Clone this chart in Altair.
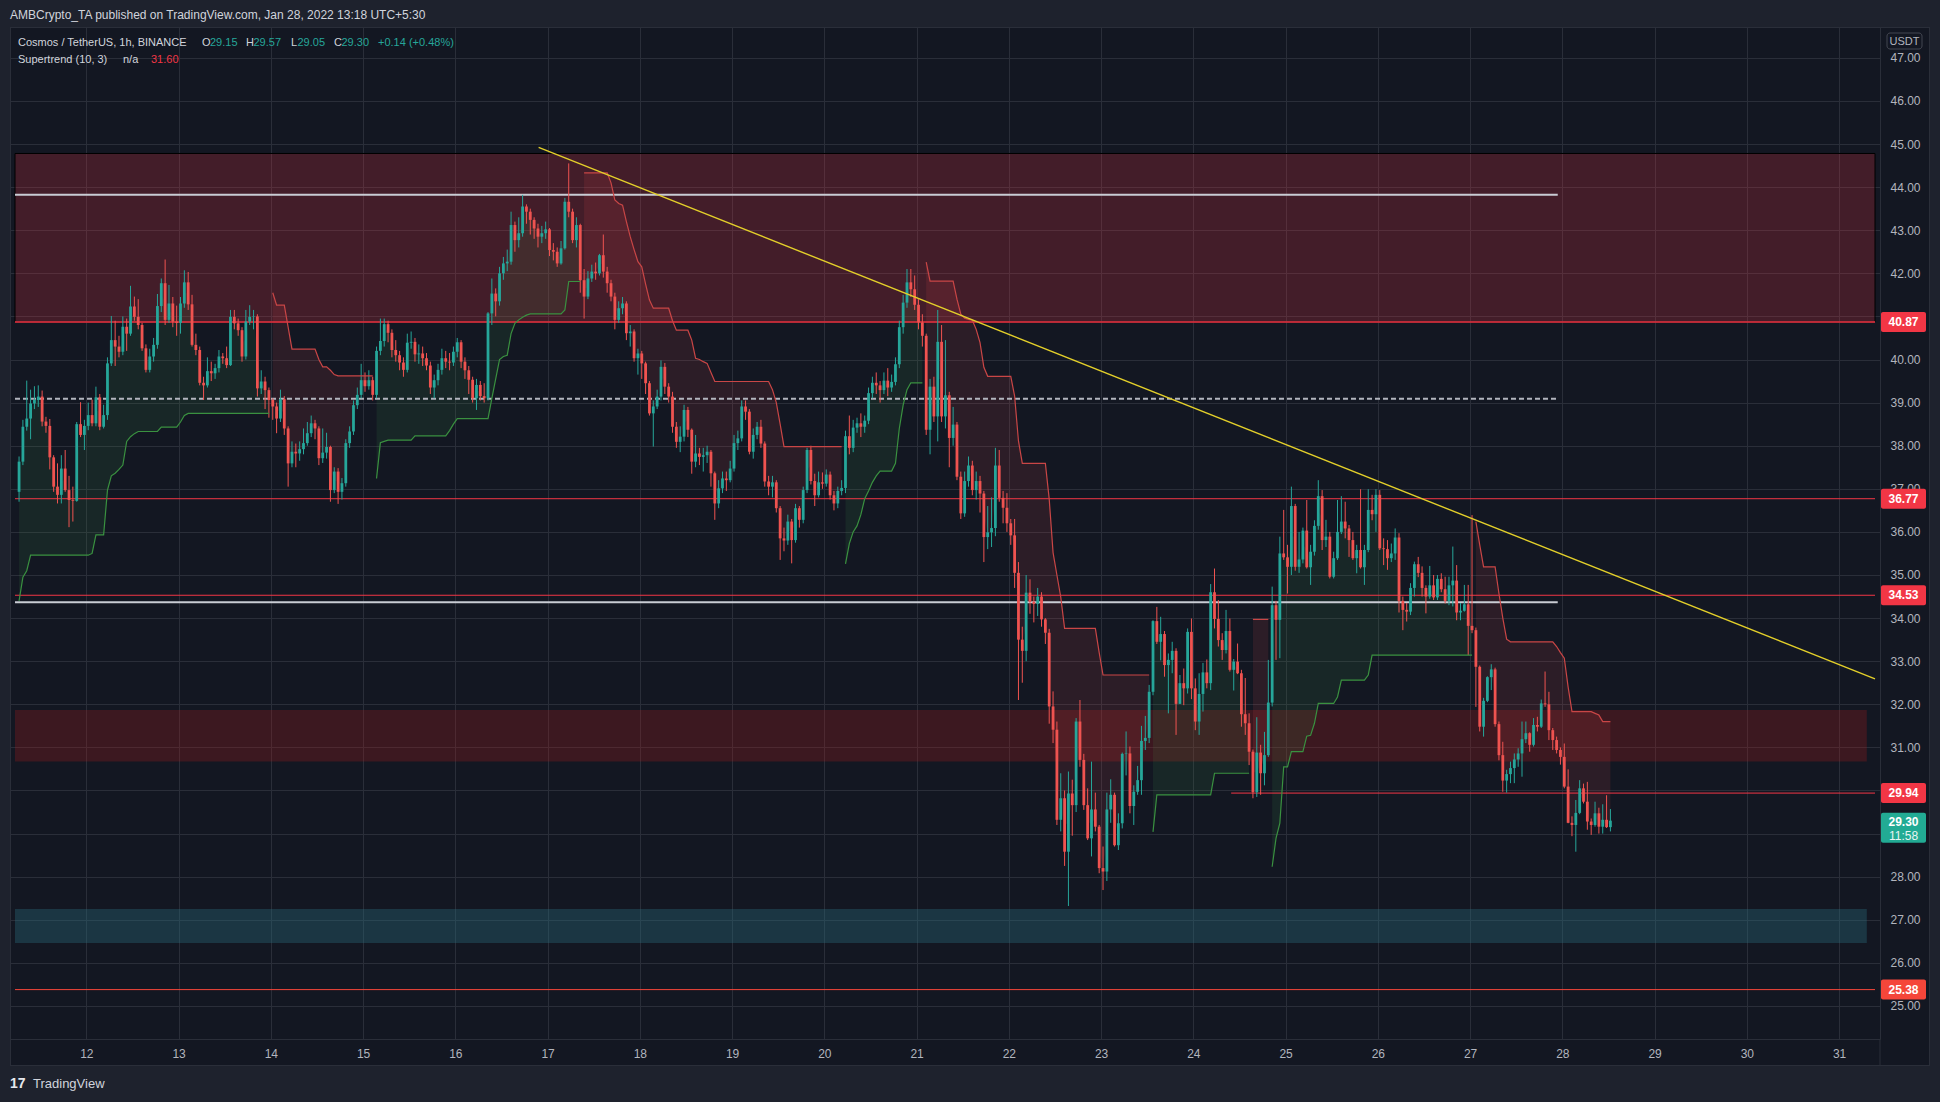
import altair as alt
import pandas as pd

# ------------------------------------------------------------------ data
FIRST_OPEN = 36.93
FIRST_BAR_DAY = 11.271          # Jan 11, 06:30 (UTC+5:30); one bar per hour
BARS_PER_DAY = 24

CLOSE = [
    37.63, 38.44, 38.63, 38.98, 39.06, 39.14, 38.56, 38.46, 37.73, 37.05,
    36.86, 37.47, 36.97, 36.74, 36.72, 38.50, 38.25, 38.46, 38.71, 38.52,
    39.12, 38.44, 38.71, 39.91, 40.45, 40.30, 40.18, 40.76, 40.60, 41.23,
    40.99, 40.80, 40.26, 39.76, 40.07, 40.34, 41.24, 41.77, 40.92, 41.30,
    40.88, 40.85, 41.30, 41.79, 41.28, 40.34, 40.22, 39.46, 39.40, 39.73,
    39.68, 39.80, 40.07, 40.03, 39.87, 40.99, 40.84, 40.68, 40.07, 40.88,
    40.99, 41.00, 39.33, 39.49, 39.29, 39.06, 38.91, 38.63, 39.08, 38.40,
    37.59, 37.86, 37.82, 37.92, 38.06, 38.29, 38.52, 38.40, 37.71, 37.84,
    37.97, 36.97, 37.40, 36.93, 37.13, 38.06, 38.33, 38.94, 39.18, 39.52,
    39.38, 39.52, 39.18, 40.20, 40.43, 40.82, 40.62, 40.22, 40.10, 39.93,
    39.76, 40.39, 40.41, 40.12, 40.14, 40.03, 39.86, 39.35, 39.52, 39.76,
    40.03, 39.95, 39.93, 40.18, 40.40, 39.95, 39.75, 39.53, 39.10, 39.41,
    39.15, 39.10, 41.07, 41.53, 41.35, 42.00, 42.23, 42.27, 43.12, 42.77,
    42.93, 43.55, 43.43, 43.24, 43.04, 42.85, 42.93, 43.02, 42.54, 42.50,
    42.23, 42.58, 43.66, 43.43, 42.77, 43.12, 41.84, 41.46, 41.88, 42.04,
    42.00, 42.42, 42.04, 41.77, 41.46, 40.92, 41.19, 41.30, 40.61, 40.65,
    40.03, 40.14, 39.91, 39.45, 38.75, 38.91, 39.14, 39.83, 39.37, 39.14,
    38.44, 38.09, 38.21, 38.83, 38.37, 37.63, 37.82, 37.74, 37.78, 37.86,
    37.36, 36.66, 37.01, 37.24, 37.20, 37.47, 38.06, 38.17, 38.91, 38.79,
    37.86, 38.25, 38.44, 38.05, 37.17, 37.05, 37.15, 36.55, 35.85, 35.80,
    36.24, 35.81, 36.55, 36.28, 36.97, 37.90, 37.18, 36.85, 37.15, 37.12,
    37.33, 36.85, 36.66, 36.95, 37.02, 38.22, 37.95, 38.42, 38.52, 38.44,
    38.58, 39.22, 39.46, 39.40, 39.29, 39.51, 39.35, 39.48, 39.89, 40.75,
    41.32, 41.79, 41.63, 41.27, 40.86, 40.55, 38.37, 39.37, 38.68, 40.41,
    38.68, 39.17, 38.18, 38.49, 37.28, 36.43, 37.18, 37.54, 36.97, 37.18,
    36.89, 35.88, 35.99, 36.09, 37.54, 36.79, 36.56, 36.20, 35.92, 35.05,
    33.50, 33.24, 34.59, 34.38, 34.33, 34.50, 33.97, 33.66, 31.95, 31.41,
    29.32, 29.82, 28.58, 29.93, 29.66, 31.60, 30.71, 29.66, 28.89, 29.56,
    29.16, 28.20, 28.12, 29.56, 29.90, 28.73, 29.24, 30.85, 30.86, 29.64,
    29.97, 30.24, 31.15, 31.22, 32.29, 33.93, 33.45, 33.63, 32.91, 33.03,
    33.24, 32.01, 32.49, 32.37, 33.68, 32.37, 31.60, 32.24, 32.74, 32.49,
    34.60, 33.98, 33.49, 33.26, 33.70, 32.80, 32.99, 32.72, 31.77, 31.56,
    30.90, 29.96, 30.88, 30.40, 30.82, 32.04, 34.30, 33.96, 35.50, 35.41,
    35.19, 36.60, 35.19, 35.36, 36.03, 35.18, 35.54, 36.14, 36.83, 35.81,
    35.89, 34.96, 35.39, 36.00, 36.24, 36.08, 35.81, 35.39, 35.58, 35.18,
    35.58, 36.51, 36.41, 36.86, 35.62, 35.60, 35.39, 35.50, 35.87, 34.40,
    34.19, 34.15, 34.70, 35.25, 35.05, 34.70, 34.50, 34.76, 34.48, 34.91,
    34.67, 34.40, 34.76, 34.87, 34.13, 34.17, 34.32, 33.82, 33.72, 32.87,
    31.48, 32.08, 32.63, 32.81, 31.54, 30.82, 30.23, 30.38, 30.52, 30.72,
    30.86, 31.19, 31.33, 31.06, 31.52, 31.48, 32.02, 32.00, 31.40, 31.17,
    30.94, 30.78, 30.09, 29.25, 29.20, 29.48, 30.05, 29.74, 29.28, 29.20,
    29.47, 29.16, 29.32, 29.15, 29.30,
]

HIGH = [
    37.75, 38.60, 39.51, 39.30, 39.38, 39.40, 39.28, 38.67, 38.62, 37.78,
    37.59, 37.78, 37.90, 37.30, 37.05, 38.55, 39.01, 38.60, 39.00, 39.07,
    39.37, 39.20, 38.95, 40.05, 41.01, 40.90, 40.55, 41.00, 40.95, 41.71,
    41.46, 41.40, 40.85, 40.35, 40.25, 40.50, 41.52, 41.88, 42.32, 41.73,
    41.45, 41.25, 41.45, 42.07, 42.03, 41.50, 40.60, 40.30, 39.60, 40.05,
    39.95, 39.90, 40.22, 40.15, 40.30, 41.15, 41.15, 40.95, 40.75, 41.15,
    41.26, 41.15, 41.05, 39.75, 39.60, 39.35, 39.10, 39.00, 39.30, 39.15,
    38.45, 38.10, 38.05, 38.10, 38.40, 38.55, 38.70, 38.60, 38.45, 38.40,
    38.30, 38.00, 37.50, 37.48, 37.25, 38.15, 38.45, 39.05, 39.35, 39.90,
    39.70, 39.75, 39.60, 40.30, 40.95, 40.95, 40.90, 40.70, 40.45, 40.20,
    40.05, 40.60, 40.65, 40.50, 40.35, 40.30, 40.15, 39.95, 39.65, 39.90,
    40.25, 40.20, 40.15, 40.30, 40.50, 40.45, 40.05, 39.85, 39.60, 39.55,
    39.50, 39.45, 41.10, 41.88, 41.65, 42.15, 42.38, 42.55, 43.43, 43.20,
    43.30, 43.82, 43.60, 43.50, 43.30, 43.15, 43.10, 43.20, 43.05, 42.70,
    42.60, 42.75, 43.75, 44.55, 43.50, 43.30, 43.15, 42.10, 42.05, 42.20,
    42.25, 42.45, 42.90, 42.15, 41.85, 41.55, 41.35, 41.45, 41.35, 40.80,
    40.70, 40.25, 40.20, 39.95, 39.50, 39.05, 39.30, 39.98, 39.92, 39.45,
    39.25, 38.55, 38.45, 38.95, 38.90, 38.40, 38.25, 37.95, 37.95, 38.00,
    37.90, 37.40, 37.20, 37.40, 37.40, 37.65, 38.25, 38.35, 39.05, 39.05,
    38.85, 38.40, 38.55, 38.60, 38.10, 37.30, 37.30, 37.20, 36.60, 36.10,
    36.40, 36.30, 36.65, 36.60, 37.05, 37.95, 38.00, 37.35, 37.40, 37.38,
    37.45, 37.40, 36.95, 37.05, 37.20, 38.35, 38.70, 38.60, 38.65, 38.75,
    38.70, 39.35, 39.60, 39.70, 39.50, 39.70, 39.80, 39.65, 40.05, 40.90,
    41.50, 42.10, 42.10, 41.95, 41.40, 41.05, 40.60, 39.55, 39.60, 41.15,
    40.80, 40.45, 39.25, 38.90, 38.55, 37.40, 37.40, 37.75, 37.65, 37.40,
    37.30, 36.95, 36.60, 36.80, 37.95, 37.90, 36.95, 36.90, 36.30, 36.30,
    35.30, 33.80, 35.00, 34.90, 34.50, 34.70, 34.60, 34.00, 33.75, 32.30,
    31.60, 30.40, 30.00, 30.44, 30.25, 31.68, 32.10, 30.85, 30.05, 30.67,
    29.95, 29.20, 28.70, 29.95, 30.26, 29.95, 29.47, 30.88, 31.37, 31.02,
    30.12, 30.57, 31.50, 31.73, 32.45, 33.95, 34.26, 34.03, 33.70, 33.18,
    33.45, 33.30, 32.68, 32.83, 33.76, 33.99, 32.60, 32.72, 32.96, 33.04,
    34.79, 35.15, 34.42, 33.65, 34.19, 33.99, 33.05, 33.41, 32.80, 32.61,
    31.79, 30.95, 31.70, 31.06, 31.36, 33.03, 34.73, 34.40, 35.89, 36.51,
    35.70, 37.05, 36.65, 36.00, 36.10, 36.74, 35.70, 36.27, 37.20, 36.97,
    36.28, 36.00, 35.54, 36.74, 36.83, 36.70, 36.16, 36.00, 35.70, 36.99,
    35.70, 36.99, 36.86, 36.99, 36.97, 35.85, 35.81, 35.73, 36.08, 35.97,
    34.50, 34.35, 34.81, 35.31, 35.42, 35.20, 34.76, 35.21, 35.00, 35.00,
    35.04, 34.96, 34.96, 35.66, 35.23, 34.35, 34.77, 34.77, 36.39, 33.78,
    32.90, 32.15, 32.65, 32.93, 32.85, 31.60, 31.13, 30.48, 30.67, 30.86,
    30.98, 31.60, 31.60, 31.35, 31.68, 31.71, 32.11, 32.76, 32.29, 31.45,
    31.25, 31.00, 31.09, 30.49, 29.40, 29.78, 30.24, 30.16, 30.20, 29.35,
    29.74, 29.60, 29.68, 29.89, 29.57,
]

LOW = [
    36.70, 37.55, 38.35, 38.15, 38.85, 38.90, 38.45, 38.30, 37.45, 36.93,
    36.66, 36.66, 36.93, 36.11, 36.24, 36.70, 38.20, 37.90, 38.36, 38.45,
    38.45, 38.36, 38.40, 38.60, 39.85, 39.85, 40.05, 40.10, 40.20, 40.55,
    40.90, 40.70, 40.20, 39.70, 39.70, 39.95, 40.25, 41.10, 40.80, 40.85,
    40.75, 40.55, 40.60, 41.20, 41.15, 40.30, 40.10, 39.40, 39.06, 39.35,
    39.50, 39.55, 39.70, 39.90, 39.80, 39.85, 40.70, 40.55, 39.95, 40.00,
    40.80, 40.70, 39.14, 39.20, 38.85, 38.65, 38.60, 38.29, 38.55, 38.25,
    37.05, 37.50, 37.50, 37.65, 37.80, 38.00, 38.20, 38.15, 37.55, 37.60,
    37.70, 36.70, 36.90, 36.65, 36.75, 37.05, 37.95, 38.25, 38.85, 39.10,
    39.25, 39.30, 39.05, 39.10, 40.10, 40.30, 40.40, 40.05, 39.95, 39.75,
    39.60, 39.70, 40.25, 39.95, 39.90, 39.85, 39.75, 39.20, 39.10, 39.40,
    39.65, 39.80, 39.75, 39.85, 40.05, 39.80, 39.55, 39.20, 39.00, 38.83,
    39.05, 39.00, 39.05, 40.80, 41.00, 41.25, 41.85, 42.05, 42.20, 42.50,
    42.60, 42.85, 43.15, 42.90, 42.80, 42.60, 42.70, 42.80, 42.40, 42.30,
    42.15, 42.20, 42.55, 43.30, 42.70, 42.60, 41.55, 40.95, 41.40, 41.80,
    41.85, 41.95, 41.90, 41.55, 41.35, 40.70, 40.85, 41.05, 40.45, 40.30,
    39.95, 39.65, 39.55, 39.20, 38.70, 37.98, 38.85, 39.05, 39.20, 39.00,
    38.30, 37.95, 37.85, 38.10, 38.20, 37.35, 37.50, 37.55, 37.40, 37.60,
    37.05, 36.28, 36.55, 36.90, 36.95, 37.15, 37.40, 37.90, 38.10, 38.60,
    37.80, 37.70, 38.15, 37.95, 37.05, 36.85, 36.80, 36.45, 35.35, 35.55,
    35.70, 35.27, 35.75, 36.10, 36.20, 36.90, 37.10, 36.60, 36.80, 37.00,
    37.05, 36.75, 36.50, 36.55, 36.85, 36.90, 37.80, 37.85, 38.30, 38.20,
    38.30, 38.50, 39.10, 39.20, 39.00, 39.20, 39.15, 39.25, 39.40, 39.80,
    40.60, 41.20, 41.45, 41.15, 40.70, 40.30, 38.25, 37.80, 38.55, 38.10,
    38.55, 38.40, 37.50, 38.00, 37.20, 36.30, 36.35, 37.05, 36.85, 36.75,
    36.45, 35.30, 35.60, 35.65, 35.90, 36.70, 36.20, 36.00, 35.70, 34.70,
    32.10, 32.50, 33.00, 34.10, 33.90, 34.05, 33.80, 33.40, 31.55, 31.10,
    29.20, 29.05, 28.25, 27.32, 28.95, 29.50, 30.55, 29.55, 28.85, 28.47,
    29.05, 28.08, 27.69, 27.90, 29.25, 28.70, 28.62, 29.12, 30.35, 29.47,
    29.20, 29.90, 29.90, 30.94, 31.10, 32.21, 33.40, 33.02, 32.64, 31.79,
    32.72, 31.29, 32.02, 31.98, 32.25, 32.12, 31.40, 31.29, 31.83, 32.37,
    32.33, 33.76, 33.34, 33.03, 33.18, 32.76, 32.32, 32.70, 31.48, 31.29,
    30.59, 29.82, 29.85, 29.90, 30.12, 30.78, 31.95, 33.03, 33.07, 35.35,
    34.57, 35.00, 35.10, 35.05, 35.27, 35.15, 34.77, 35.45, 36.05, 35.58,
    35.65, 34.92, 34.92, 35.35, 35.95, 35.85, 35.42, 35.35, 35.04, 35.15,
    34.77, 35.53, 36.27, 36.00, 35.58, 35.23, 35.12, 35.30, 35.35, 34.13,
    33.72, 33.92, 34.07, 34.50, 34.95, 34.50, 34.11, 34.45, 34.42, 34.42,
    34.60, 34.34, 34.30, 34.27, 33.95, 33.95, 34.15, 33.14, 33.65, 31.94,
    31.37, 31.25, 32.05, 32.33, 31.48, 30.70, 29.97, 29.95, 30.17, 30.17,
    30.55, 30.32, 31.10, 30.90, 31.02, 31.37, 31.45, 31.94, 31.17, 30.94,
    30.86, 30.60, 30.05, 29.24, 28.94, 28.58, 29.45, 29.70, 29.09, 28.97,
    29.16, 29.00, 29.00, 29.13, 29.05,
]

# Supertrend (10, 3): consecutive trend segments, each a run-length list of (value, bars)
ST_SEGMENTS = [
    ("up", [(34.40, 1), (34.95, 1), (35.10, 1), (35.46, 16), (35.50, 1), (35.93, 3),
            (36.97, 1), (37.30, 1), (37.36, 1), (37.45, 1), (37.55, 1), (38.10, 1),
            (38.21, 1), (38.28, 1), (38.33, 6), (38.43, 5), (38.55, 1), (38.70, 1),
            (38.75, 22)]),
    ("down", [(41.55, 1), (41.26, 3), (40.75, 1), (40.24, 7), (40.00, 1), (39.83, 2),
              (39.75, 1), (39.65, 1), (39.62, 10)]),
    ("up", [(37.24, 1), (38.07, 1), (38.10, 1), (38.13, 7), (38.23, 9), (38.35, 1),
            (38.50, 1), (38.63, 9), (39.10, 1), (39.55, 1), (40.00, 1), (40.07, 1),
            (40.10, 1), (40.60, 1), (40.84, 1), (40.92, 1), (40.98, 1), (41.03, 1),
            (41.06, 9), (41.15, 1), (41.81, 4)]),
    ("down", [(44.33, 7), (44.10, 1), (43.70, 1), (43.62, 1), (43.58, 1), (43.20, 1),
              (42.85, 1), (42.55, 1), (42.27, 1), (42.15, 1), (41.75, 1), (41.38, 1),
              (41.19, 5), (40.90, 1), (40.68, 4), (40.45, 1), (40.03, 1), (40.00, 1),
              (39.95, 1), (39.91, 1), (39.70, 1), (39.49, 15), (39.30, 1), (39.00, 1),
              (38.50, 1), (37.98, 16)]),
    ("up", [(35.26, 1), (35.73, 1), (36.00, 1), (36.14, 1), (36.40, 1), (36.77, 1),
            (36.95, 1), (37.15, 1), (37.30, 1), (37.41, 4), (37.59, 1), (38.40, 1),
            (38.94, 1), (39.30, 1), (39.46, 4)]),
    ("down", [(42.26, 1), (41.82, 7), (41.40, 1), (41.05, 1), (40.96, 1), (40.93, 1),
              (40.91, 1), (40.70, 1), (40.39, 1), (39.82, 1), (39.61, 7), (39.15, 1),
              (38.11, 1), (37.59, 7), (36.76, 1), (35.52, 1), (35.00, 1), (34.49, 1),
              (33.76, 9), (33.20, 1), (32.68, 13)]),
    ("up", [(29.04, 1), (29.90, 15), (30.40, 10)]),
    ("down", [(33.97, 5)]),
    ("up", [(28.23, 1), (28.89, 1), (29.24, 1), (30.55, 2), (30.90, 4), (31.26, 1),
            (31.28, 1), (31.56, 1), (32.02, 5), (32.17, 1), (32.56, 7), (32.68, 1),
            (33.14, 27)]),
    ("down", [(36.24, 1), (35.70, 1), (35.19, 4), (34.57, 1), (34.00, 1), (33.51, 1),
              (33.45, 12), (33.34, 1), (33.20, 1), (33.07, 1), (32.40, 1), (31.83, 6),
              (31.79, 1), (31.75, 1), (31.60, 3)]),
]

TOP_ZONE = [40.87, 44.78]
MID_ZONE = [30.67, 31.87]
TEAL_ZONE = [26.46, 27.25]
ZONE_END_DAY = 31.30
RED_LEVELS = [36.77, 34.53]
KEY_LEVEL = 40.87
ORANGE_LEVEL = 25.38
WHITE_LEVELS = [43.82, 34.37]
DASHED_LEVEL = 39.09
WHITE_END_DAY = 27.95
SUPPORT_LEVEL = 29.94
SUPPORT_START_DAY = 24.41
TREND_DAYS = [16.903, 31.389]
TREND_PRICES = [44.92, 32.59]
DAY_TICKS = list(range(12, 32))
PRICE_TICKS = list(range(25, 48))
RED_TAGS = [40.87, 36.77, 34.53, 29.94]
ORANGE_TAG = 25.38
LAST_PRICE = 29.30
COUNTDOWN = "11:58"
X_DOMAIN = [11.227, 31.389]
Y_DOMAIN = [24.234, 47.715]

# ------------------------------------------------------------------ styles
PANE = "#131722"
FRAME = "#1e222d"
BORDER = "#2a2e39"
TEXT = "#d1d4dc"
AXIS_TEXT = "#b2b5be"
UP = "#26a69a"
DOWN = "#ef5350"
TAG_RED = "#f23645"
TAG_ORANGE = "#f5463a"
FONT = "Liberation Sans, Arial, sans-serif"
W, H = 1870, 1012

# ------------------------------------------------------------------ frames
n = len(CLOSE)
opens = [FIRST_OPEN] + CLOSE[:-1]
candles = pd.DataFrame({
    "t": [FIRST_BAR_DAY + i / BARS_PER_DAY for i in range(n)],
    "o": opens,
    "c": CLOSE,
    "h": [max(HIGH[i], opens[i], CLOSE[i]) for i in range(n)],
    "l": [min(LOW[i], opens[i], CLOSE[i]) for i in range(n)],
})
candles["mid"] = (candles["o"] + candles["c"]) / 2

rows = []
idx = 0
for sid, (direction, runs) in enumerate(ST_SEGMENTS):
    for value, count in runs:
        for _ in range(count):
            if idx < n:
                rows.append({"t": candles["t"][idx], "st": value, "mid": candles["mid"][idx],
                             "seg": sid, "dir": direction})
            idx += 1
st = pd.DataFrame(rows)

XS = alt.Scale(domain=X_DOMAIN, nice=False, zero=False)
YS = alt.Scale(domain=Y_DOMAIN, nice=False, zero=False)
dummy = pd.DataFrame({"a": [0]})

X_AXIS = alt.Axis(values=DAY_TICKS, format="d", title=None, grid=True, gridColor=BORDER,
                  gridWidth=1, domainColor=BORDER, ticks=False, labelColor=AXIS_TEXT,
                  labelFontSize=12, labelFont=FONT, labelPadding=14, labelBaseline="middle",
                  labelFlush=False)
Y_AXIS = alt.Axis(orient="right", values=PRICE_TICKS, format=".2f", title=None, grid=True,
                  gridColor=BORDER, gridWidth=1, domainColor=BORDER, ticks=False,
                  labelColor=AXIS_TEXT, labelFontSize=12, labelFont=FONT, labelPadding=10,
                  labelAlign="left", labelBaseline="middle")


def X(f):
    return alt.X(f, scale=XS, axis=X_AXIS)


def Y(f):
    return alt.Y(f, scale=YS, axis=Y_AXIS, stack=None)


# zones
def zone(lo, hi, x1, color, **kw):
    df = pd.DataFrame({"x0": [X_DOMAIN[0]], "x1": [x1], "y0": [lo], "y1": [hi]})
    return alt.Chart(df).mark_rect(color=color, **kw).encode(
        x=X("x0:Q"), x2="x1:Q", y=Y("y0:Q"), y2="y1:Q")


zones = [
    zone(TOP_ZONE[0], TOP_ZONE[1], X_DOMAIN[1], "rgba(242,54,69,0.22)",
         stroke="#000000", strokeWidth=1),
    zone(MID_ZONE[0], MID_ZONE[1], ZONE_END_DAY, "rgba(183,28,28,0.25)"),
    zone(TEAL_ZONE[0], TEAL_ZONE[1], ZONE_END_DAY, "rgba(42,111,128,0.36)"),
]

# supertrend fill and lines
def st_fill(direction, color):
    return alt.Chart(st).transform_filter(alt.datum.dir == direction).mark_area(
        interpolate="linear", color=color).encode(
        x=X("t:Q"), y=Y("st:Q"), y2="mid:Q", detail="seg:N")


def st_line(direction, color):
    return alt.Chart(st).transform_filter(alt.datum.dir == direction).mark_line(
        interpolate="linear", color=color, strokeWidth=1.2).encode(
        x=X("t:Q"), y=Y("st:Q"), detail="seg:N")


fills = [st_fill("up", "rgba(76,175,80,0.11)"), st_fill("down", "rgba(255,82,82,0.11)")]
st_lines = [st_line("up", "#3a9140"), st_line("down", "#c94646")]

# horizontal levels
def hline(levels, x0, x1, color, width, dash=None):
    df = pd.DataFrame({"p": levels, "x0": [x0] * len(levels), "x1": [x1] * len(levels)})
    kw = dict(color=color, strokeWidth=width)
    if dash:
        kw["strokeDash"] = dash
    return alt.Chart(df).mark_rule(**kw).encode(x=X("x0:Q"), x2="x1:Q", y=Y("p:Q"))


lines = [
    hline(WHITE_LEVELS, X_DOMAIN[0], WHITE_END_DAY, "#c9ccd4", 2),
    hline([DASHED_LEVEL], X_DOMAIN[0], WHITE_END_DAY, "#b2b5be", 2, [5, 3]),
    hline([KEY_LEVEL], X_DOMAIN[0], X_DOMAIN[1], TAG_RED, 1.4),
    hline(RED_LEVELS, X_DOMAIN[0], X_DOMAIN[1], TAG_RED, 1),
    hline([SUPPORT_LEVEL], SUPPORT_START_DAY, X_DOMAIN[1], TAG_RED, 1),
    hline([ORANGE_LEVEL], X_DOMAIN[0], X_DOMAIN[1], TAG_ORANGE, 1),
]

# candles
cond = alt.condition("datum.c >= datum.o", alt.value(UP), alt.value(DOWN))
wicks = alt.Chart(candles).mark_rule(strokeWidth=1).encode(
    x=X("t:Q"), y=Y("l:Q"), y2="h:Q", color=cond)
bodies = alt.Chart(candles).mark_bar(width=2.8).encode(
    x=X("t:Q"), y=Y("o:Q"), y2="c:Q", color=cond)

# trendline
trend = alt.Chart(pd.DataFrame({"t": TREND_DAYS, "p": TREND_PRICES})).mark_line(
    color="#e3cf2a", strokeWidth=1.4, clip=True).encode(x=X("t:Q"), y=Y("p:Q"))

# frame around the pane
def prect(x0, x1, y0, y1, color):
    return alt.Chart(dummy).mark_rect(color=color).encode(
        x=alt.value(x0), x2=alt.value(x1), y=alt.value(y0), y2=alt.value(y1))


def prule(x0, x1, y0, y1, color=BORDER):
    return alt.Chart(dummy).mark_rule(color=color, strokeWidth=1).encode(
        x=alt.value(x0), x2=alt.value(x1), y=alt.value(y0), y2=alt.value(y1))


frame = [
    prect(-10, 1930, -27, 0, FRAME),
    prect(-10, 0, 0, 1075, FRAME),
    prect(1920, 1930, 0, 1075, FRAME),
    prect(-10, 1930, 1039, 1075, FRAME),
    prule(0, 1920, 0.5, 0.5),
    prule(0.5, 0.5, 0, 1039),
    prule(1919.5, 1919.5, 0, 1039),
    prule(0, 1920, 1038.5, 1038.5),
    prule(1870, 1870, 1012, 1039),
]

# price tags
tag_df = pd.DataFrame({"p": RED_TAGS})
tag_df["lo"] = tag_df["p"] - 0.232
tag_df["hi"] = tag_df["p"] + 0.232
org_df = pd.DataFrame({"p": [ORANGE_TAG]})
org_df["lo"] = org_df["p"] - 0.232
org_df["hi"] = org_df["p"] + 0.232
last_df = pd.DataFrame({"p": [LAST_PRICE], "lo": [LAST_PRICE - 0.51], "hi": [LAST_PRICE + 0.186],
                        "cd": [COUNTDOWN]})


def tag_box(df, color):
    return alt.Chart(df).mark_rect(color=color, cornerRadius=2).encode(
        x=alt.value(1871), x2=alt.value(1916), y=Y("lo:Q"), y2="hi:Q")


def tag_text(df, dy=0):
    return alt.Chart(df).mark_text(color="#ffffff", fontSize=12, fontWeight="bold", font=FONT,
                                   align="center", baseline="middle", dy=dy).encode(
        x=alt.value(1893.5), y=Y("p:Q"), text=alt.Text("p:Q", format=".2f"))


tags = [
    tag_box(tag_df, TAG_RED), tag_text(tag_df),
    tag_box(org_df, TAG_ORANGE), tag_text(org_df),
    tag_box(last_df, "#22ab94"), tag_text(last_df, 1),
    alt.Chart(last_df).mark_text(color="#e8f5f3", fontSize=12, font=FONT, align="center",
                                 baseline="middle", dy=15).encode(
        x=alt.value(1893.5), y=Y("p:Q"), text="cd:N"),
]

# texts
def txt(s, x, y, color=TEXT, size=11, weight="normal", align="left"):
    return alt.Chart(dummy).mark_text(color=color, fontSize=size, fontWeight=weight, font=FONT,
                                      align=align, baseline="middle").encode(
        x=alt.value(x), y=alt.value(y), text=alt.value(s))


texts = [
    txt("AMBCrypto_TA published on TradingView.com, Jan 28, 2022 13:18 UTC+5:30", 0, -12,
        size=12),
    txt("Cosmos / TetherUS, 1h, BINANCE", 8, 15.5),
    txt("O", 192, 15.5), txt("29.15", 200, 15.5, UP),
    txt("H", 236, 15.5), txt("29.57", 243.5, 15.5, UP),
    txt("L", 281, 15.5), txt("29.05", 287.5, 15.5, UP),
    txt("C", 324, 15.5), txt("29.30", 331.5, 15.5, UP),
    txt("+0.14 (+0.48%)", 368, 15.5, UP),
    txt("Supertrend (10, 3)", 8, 33), txt("n/a", 113, 33), txt("31.60", 141, 33, TAG_RED),
    alt.Chart(dummy).mark_rect(fill=PANE, stroke="#434651", strokeWidth=1, cornerRadius=3).encode(
        x=alt.value(1877), x2=alt.value(1912), y=alt.value(6), y2=alt.value(22)),
    txt("USDT", 1894.5, 14.5, AXIS_TEXT, 11, align="center"),
    txt("17", 0, 1057, "#e6e8ee", 14, "bold"),
    txt("TradingView", 23, 1057, TEXT, 13),
]

chart = alt.layer(
    *zones, *fills, *lines, wicks, bodies, *st_lines, trend, *frame, *tags, *texts
).properties(
    width=W, height=H,
    padding={"left": 10, "top": 27, "right": 60, "bottom": 63},
    autosize=alt.AutoSizeParams(type="none"),
    background=PANE,
).configure_view(strokeWidth=0, fill=PANE)

chart.save("out.html", embed_options={"renderer": "svg", "actions": False})
